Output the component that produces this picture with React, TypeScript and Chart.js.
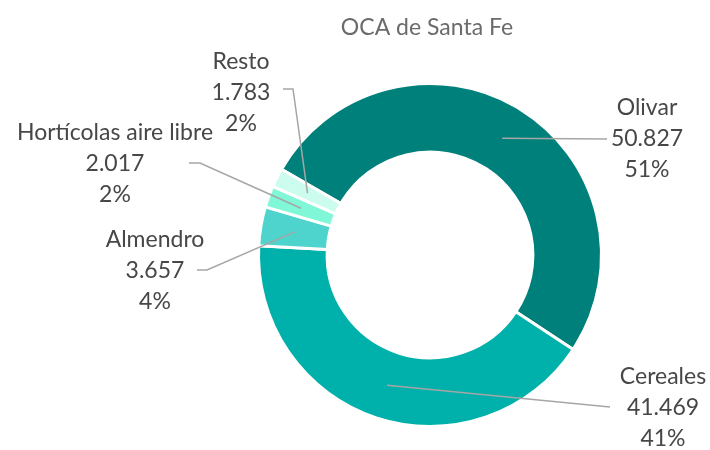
import React, { useEffect, useRef } from "react";
import { Chart, registerables } from "chart.js";

Chart.register(...registerables);

const title = "OCA de Santa Fe";
const categories = ["Olivar", "Cereales", "Almendro", "Hortícolas aire libre", "Resto"];
const values = [50827, 41469, 3657, 2017, 1783];
const valueLabels = ["50.827", "41.469", "3.657", "2.017", "1.783"];
const percentLabels = ["51%", "41%", "4%", "2%", "2%"];
const colors = ["#00807A", "#00B0AA", "#4FD3CD", "#80F7D6", "#CBFCEE"];

// label layout, offsets from doughnut centre (text centre of first line, elbow, end of leader)
const labelLayout = [
  { tx: 217, ty: -147, ex: 177, ey: -116, kx: 177, ky: -116 },
  { tx: 233, ty: 122, ex: 180, ey: 152, kx: 180, ky: 152 },
  { tx: -275, ty: -15, ex: -233, ey: 15, kx: -223, ky: 15 },
  { tx: -315, ty: -122, ex: -241, ey: -92, kx: -230, ky: -92 },
  { tx: -189, ty: -193, ex: -147, ey: -166, kx: -137, ky: -166 },
];

const FONT = "Lato, 'Open Sans', sans-serif";

const labelPlugin = {
  id: "outerLabels",
  afterDraw(chart: any) {
    const ctx = chart.ctx;
    const meta = chart.getDatasetMeta(0);
    const first = meta.data[0];
    const cx = first.x;
    const cy = first.y;
    ctx.save();
    // title
    ctx.fillStyle = "#6b6b6b";
    ctx.font = `23px ${FONT}`;
    ctx.textAlign = "center";
    ctx.textBaseline = "middle";
    ctx.fillText(title, cx - 3, 28);
    // leaders
    ctx.strokeStyle = "#a6a6a6";
    ctx.lineWidth = 1.5;
    meta.data.forEach((arc: any, i: number) => {
      const p = arc.getCenterPoint();
      const L = labelLayout[i];
      ctx.beginPath();
      ctx.moveTo(p.x, p.y);
      ctx.lineTo(cx + L.kx, cy + L.ky);
      ctx.lineTo(cx + L.ex, cy + L.ey);
      ctx.stroke();
    });
    // texts
    ctx.fillStyle = "#474747";
    ctx.font = `23px ${FONT}`;
    categories.forEach((c, i) => {
      const L = labelLayout[i];
      const x = cx + L.tx;
      const y = cy + L.ty;
      ctx.fillText(c, x, y);
      ctx.fillText(valueLabels[i], x, y + 31);
      ctx.fillText(percentLabels[i], x, y + 62);
    });
    ctx.restore();
  },
};

export default function App() {
  const ref = useRef<HTMLCanvasElement | null>(null);
  useEffect(() => {
    document.body.style.margin = "0";
    const chart = new Chart(ref.current as HTMLCanvasElement, {
      type: "doughnut",
      data: {
        labels: categories,
        datasets: [
          {
            data: values,
            backgroundColor: colors,
            borderColor: "#ffffff",
            borderWidth: 3,
          },
        ],
      },
      options: {
        responsive: true,
        maintainAspectRatio: false,
        animation: false,
        rotation: -60,
        cutout: "60%",
        layout: { padding: { left: 257, right: 107, top: 82, bottom: 22 } },
        plugins: {
          legend: { display: false },
          tooltip: { enabled: false },
          title: { display: false },
        },
      },
      plugins: [labelPlugin],
    });
    return () => chart.destroy();
  }, []);
  return (
    <div style={{ position: "relative", width: 710, height: 450 }}>
      <canvas ref={ref} />
    </div>
  );
}
